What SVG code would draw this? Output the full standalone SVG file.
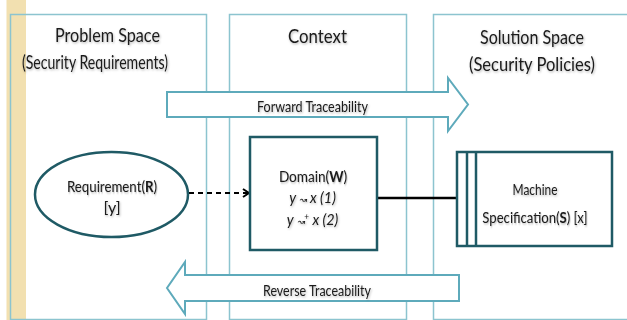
<svg xmlns="http://www.w3.org/2000/svg" width="627" height="320" viewBox="0 0 627 320">
<defs>
<style>
.col{fill:none;stroke:#8cc4cf;stroke-width:1.5}
.trace{fill:#fff;stroke:#5eaabb;stroke-width:2}
.node{fill:#fff;stroke:#1f5a65;stroke-width:2.5}
.t{font-family:Lato,"Open Sans",sans-serif;fill:#1a1a1a;text-anchor:middle;filter:url(#sh)}
.title{font-size:20px}
.lbl{font-size:16px}
.it{font-style:italic}
</style>
<filter id="sh" x="-10%" y="-30%" width="120%" height="160%">
<feDropShadow dx="0.8" dy="1.2" stdDeviation="0.9" flood-color="#000" flood-opacity="0.3"/>
</filter>
<marker id="chev" markerWidth="10" markerHeight="10" refX="8" refY="5" orient="auto" markerUnits="userSpaceOnUse">
<path d="M2,1 L8,5 L2,9" fill="none" stroke="#000" stroke-width="2"/>
</marker>
</defs>
<rect x="0" y="0" width="627" height="320" fill="#fff"/>
<rect x="6.5" y="0" width="19.5" height="320" fill="#f2e0b0"/>
<g id="problem-space">
<rect class="col" x="10.5" y="14.5" width="196" height="305"/>
<text class="t title" x="107.5" y="42" textLength="105" lengthAdjust="spacingAndGlyphs">Problem Space</text>
<text class="t title" x="95" y="69" textLength="146" lengthAdjust="spacingAndGlyphs">(Security Requirements)</text>
</g>
<g id="context">
<rect class="col" x="229.5" y="14.5" width="177" height="305"/>
<text class="t title" x="317.5" y="43" textLength="59" lengthAdjust="spacingAndGlyphs">Context</text>
</g>
<g id="solution-space">
<rect class="col" x="433.5" y="14.5" width="210" height="305"/>
<text class="t title" x="532" y="44" textLength="104" lengthAdjust="spacingAndGlyphs">Solution Space</text>
<text class="t title" x="532" y="71" textLength="126" lengthAdjust="spacingAndGlyphs">(Security Policies)</text>
</g>
<g id="forward-traceability">
<polygon class="trace" points="167,92 448,92 448,78 468,104.5 448,131 448,117 167,117"/>
<text class="t lbl" x="312.5" y="112" textLength="111" lengthAdjust="spacingAndGlyphs">Forward Traceability</text>
</g>
<g id="reverse-traceability">
<polygon class="trace" points="459,275 185,275 185,262 167,288 185,314 185,301 459,301"/>
<text class="t lbl" x="317" y="296" textLength="108" lengthAdjust="spacingAndGlyphs">Reverse Traceability</text>
</g>
<g id="connectors">
<line x1="189" y1="193" x2="249" y2="193" stroke="#000" stroke-width="2" stroke-dasharray="5,4" marker-end="url(#chev)"/>
<line x1="377" y1="198" x2="457" y2="198" stroke="#000" stroke-width="2.5"/>
</g>
<g id="requirement">
<ellipse class="node" cx="111.5" cy="194.5" rx="76.5" ry="42.5"/>
<text class="t lbl" transform="translate(112,192) scale(0.83,1)">Requirement(<tspan font-weight="bold">R</tspan>)</text>
<text class="t lbl" x="112" y="213">[y]</text>
</g>
<g id="domain">
<rect class="node" x="250" y="137" width="127" height="113"/>
<text class="t lbl" transform="translate(313,182) scale(0.85,1)">Domain(<tspan font-weight="bold">W</tspan>)</text>
<text class="t lbl it" transform="translate(312.5,203) scale(0.9,1)">y <tspan font-size="10">↝</tspan> x (1)</text>
<text class="t lbl it" transform="translate(312.5,225) scale(0.9,1)">y <tspan font-size="10">↝</tspan><tspan font-size="9" dy="-5">+</tspan><tspan dy="5"> x (2)</tspan></text>
</g>
<g id="machine">
<rect class="node" x="457" y="152" width="155" height="94"/>
<line x1="467" y1="152" x2="467" y2="246" stroke="#1f5a65" stroke-width="2.5"/>
<line x1="476" y1="152" x2="476" y2="246" stroke="#1f5a65" stroke-width="2.5"/>
<text class="t lbl" x="535" y="195" textLength="45" lengthAdjust="spacingAndGlyphs">Machine</text>
<text class="t lbl" transform="translate(535,223) scale(0.82,1)">Specification(<tspan font-weight="bold">S</tspan>) [x]</text>
</g>
</svg>
